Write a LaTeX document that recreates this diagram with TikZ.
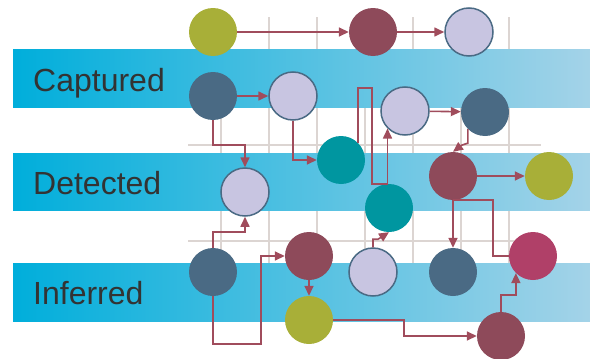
\documentclass[tikz,border=0pt]{standalone}
\usepackage{fontspec}
\setmainfont{Liberation Sans}
\usetikzlibrary{arrows.meta}
\definecolor{bandleft}{HTML}{00AEDB}
\definecolor{bandright}{HTML}{A4D3E8}
\definecolor{gridgray}{HTML}{DCD5D2}
\definecolor{labelgray}{HTML}{333333}
\definecolor{linkred}{HTML}{A04C5C}
\definecolor{dotolive}{HTML}{A8AF38}
\definecolor{dotmaroon}{HTML}{8E4A5A}
\definecolor{dotlav}{HTML}{C8C5E1}
\definecolor{dotslate}{HTML}{4A6A84}
\definecolor{dotteal}{HTML}{0096A0}
\definecolor{dotrose}{HTML}{B04068}
\begin{document}
\begin{tikzpicture}[x=1pt,y=-1pt,
  grid/.style={draw=gridgray,line width=2pt},
  band/.style={left color=bandleft,right color=bandright},
  lbl/.style={anchor=base west,inner sep=0pt,text=labelgray,font=\fontsize{32}{32}\selectfont},
  dot/.style={circle,minimum size=48pt,inner sep=0pt},
  olv/.style={dot,fill=dotolive},
  mar/.style={dot,fill=dotmaroon},
  lav/.style={dot,fill=dotlav,draw=dotslate,line width=1.5pt},
  slt/.style={dot,fill=dotslate},
  tea/.style={dot,fill=dotteal},
  ros/.style={dot,fill=dotrose},
  wire/.style={draw=linkred,line width=1.6pt},
  link/.style={wire,-{Triangle[length=10pt,width=9pt]}}]
\useasboundingbox (0,0) rectangle (590,359);
\foreach \x in {221,269,...,509}
  \draw[grid] (\x,17)--(\x,321);
\draw[grid] (188,145)--(541,145);
\draw[grid] (188,241)--(541,241);
\shade[band] (13,49) rectangle (590,107);
\shade[band] (13,153) rectangle (590,210);
\shade[band] (13,263) rectangle (590,321);
\node[lbl] (captured) at (33,91) {Captured};
\node[lbl] (detected) at (33,194) {Detected};
\node[lbl] (inferred) at (33,304) {Inferred};
\node[olv] (top1) at (213,32) {};
\node[mar] (top2) at (373,32) {};
\node[lav] (top3) at (469,32) {};
\node[slt] (cap1) at (213,96) {};
\node[lav] (cap2) at (293,96) {};
\node[lav] (cap3) at (405,111) {};
\node[slt] (cap4) at (485,112) {};
\node[tea] (det1) at (341,160) {};
\node[lav] (det2) at (245,192) {};
\node[mar] (det3) at (453,176) {};
\node[olv] (det4) at (549,176) {};
\node[tea] (det5) at (389,208) {};
\node[slt] (inf1) at (213,272) {};
\node[mar] (inf2) at (309,256) {};
\node[lav] (inf3) at (373,272) {};
\node[slt] (inf4) at (453,272) {};
\node[ros] (inf5) at (533,256) {};
\node[olv] (low1) at (309,320) {};
\node[mar] (low2) at (501,336) {};
\draw[link] (top1)--(top2);
\draw[link] (top2)--(top3);
\draw[link] (cap1)--(cap2);
\draw[link] (cap1.south)--++(0,25)-|(det2.north);
\draw[link] (cap2.south)|-(det1.west);
\draw[link] (det1.45)--++(0,-55)--++(14,0)--++(0,96)-|(cap3.225);
\draw[link] (cap3)--(cap4);
\draw[link] (cap4.225)--++(0,14)--++(-6,2)--(det3.north);
\draw[link] (det3)--(det4);
\draw[link] (det3)--(inf4);
\draw[wire] (det3.south)--++(40,0)|-(inf5.west);
\draw[link] (inf1.north)--++(0,-16)-|(det2.south);
\draw[link] (inf1.south)--++(0,48)--++(48,0)|-(inf2.west);
\draw[link] (inf2)--(low1);
\draw[link] (low1.east)--++(71,0)|-(low2.west);
\draw[link] (low2.north)--++(0,-17)-|(inf5.225);
\draw[link] (inf3.north)--++(0,-8)--++(5,0)--(det5.south);
\end{tikzpicture}
\end{document}
